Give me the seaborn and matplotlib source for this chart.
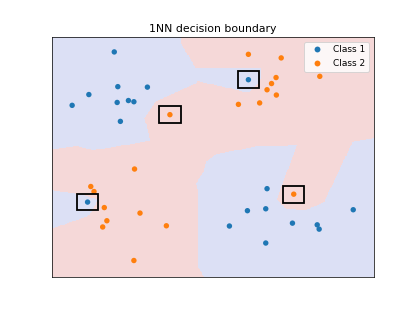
import numpy as np
import pandas as pd
import seaborn as sns
import matplotlib.pyplot as plt
from matplotlib.patches import Rectangle

# points (axes scaled 0..10 both ways)
class1_x = [1.94, 2.05, 2.97, 1.15, 0.63, 2.03, 2.38, 2.55, 2.13, 6.11,
            1.11, 6.69, 6.08, 6.65, 9.37, 5.52, 7.48, 8.25, 8.31, 6.65]
class1_y = [9.39, 7.94, 7.92, 7.61, 7.16, 7.28, 7.36, 7.31, 6.49, 8.23,
            3.12, 3.68, 2.76, 2.84, 2.80, 2.12, 2.24, 2.17, 1.99, 1.41]
class2_x = [3.67, 6.11, 7.13, 8.33, 6.97, 6.83, 6.69, 6.98, 5.80, 6.46,
            2.57, 1.21, 1.31, 1.63, 2.74, 1.71, 1.58, 3.56, 2.55, 7.52]
class2_y = [6.77, 9.29, 9.14, 8.37, 8.32, 8.07, 7.81, 7.59, 7.20, 7.26,
            4.50, 3.77, 3.56, 2.89, 2.66, 2.34, 2.08, 2.13, 0.68, 3.45]
# the mislabelled-looking points that get a box
outlier_x = [6.11, 1.11, 3.67, 7.52]
outlier_y = [8.23, 3.12, 6.77, 3.45]
class_names = ["Class 1", "Class 2"]

df = pd.DataFrame({
    "x": class1_x + class2_x,
    "y": class1_y + class2_y,
    "label": [class_names[0]] * len(class1_x) + [class_names[1]] * len(class2_x),
})

fig, ax = plt.subplots(figsize=(415 / 65, 311 / 65), dpi=65)

# 1NN prediction over a grid
gx, gy = np.meshgrid(np.linspace(0, 10, 300), np.linspace(0, 10, 300))
pts = df[["x", "y"]].to_numpy()
lab = (df["label"] == class_names[1]).to_numpy().astype(int)
d = (gx[..., None] - pts[:, 0]) ** 2 + (gy[..., None] - pts[:, 1]) ** 2
pred = lab[np.argmin(d, axis=-1)]
ax.contourf(gx, gy, pred, levels=[-0.5, 0.5, 1.5], colors=["#dce0f5", "#f5d8d8"])

sns.scatterplot(data=df, x="x", y="y", hue="label", hue_order=class_names,
                palette=["#1f77b4", "#ff7f0e"], s=36, linewidth=0, ax=ax, zorder=3)

for ox, oy in zip(outlier_x, outlier_y):
    ax.add_patch(Rectangle((ox - 0.33, oy - 0.35), 0.66, 0.70, fill=False,
                           edgecolor="black", linewidth=2, zorder=4))

ax.set_xlim(0, 10)
ax.set_ylim(0, 10)
ax.set_xticks([])
ax.set_yticks([])
ax.set_xlabel("")
ax.set_ylabel("")
ax.set_title("1NN decision boundary")
leg = ax.legend(loc="upper right", title=None)
for h in leg.legend_handles:
    h.set_markersize(6.5)

fig.savefig("out.png", dpi=65)
